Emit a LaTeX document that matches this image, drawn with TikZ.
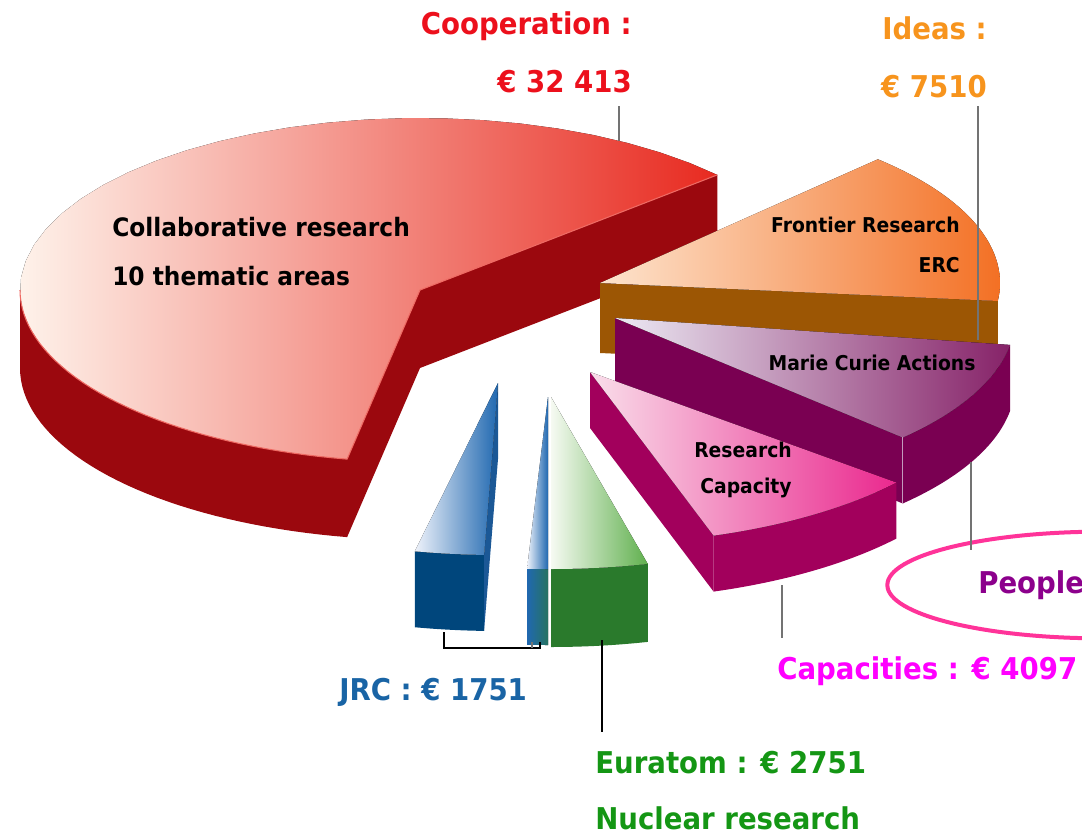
\documentclass[tikz,border=0pt]{standalone}
\usepackage{fontspec}
\setmainfont{DejaVu Sans}[FakeStretch=0.92]
\usetikzlibrary{calc}

\definecolor{coopLight}{RGB}{254,242,234}
\definecolor{coopMid}{RGB}{244,158,122}
\definecolor{coopDark}{RGB}{232,42,32}
\definecolor{coopWall}{RGB}{155,8,14}
\definecolor{coopText}{RGB}{236,16,28}
\definecolor{ideasLight}{RGB}{253,228,206}
\definecolor{ideasDark}{RGB}{243,112,36}
\definecolor{ideasWall}{RGB}{156,86,4}
\definecolor{ideasText}{RGB}{247,148,29}
\definecolor{mcLight}{RGB}{236,234,244}
\definecolor{mcDark}{RGB}{134,34,104}
\definecolor{mcWall}{RGB}{122,0,82}
\definecolor{peopleText}{RGB}{140,0,140}
\definecolor{peopleRing}{RGB}{255,51,153}
\definecolor{capLight}{RGB}{249,222,234}
\definecolor{capDark}{RGB}{234,40,142}
\definecolor{capWall}{RGB}{162,0,92}
\definecolor{capText}{RGB}{255,0,255}
\definecolor{jrcLight}{RGB}{238,242,250}
\definecolor{jrcDark}{RGB}{32,104,176}
\definecolor{jrcWall}{RGB}{0,70,124}
\definecolor{jrcText}{RGB}{25,100,165}
\definecolor{euraLight}{RGB}{246,250,242}
\definecolor{euraDark}{RGB}{96,176,78}
\definecolor{euraWall}{RGB}{42,122,44}
\definecolor{euraText}{RGB}{20,150,20}

\tikzset{
  % elliptic rim arc: centre x, centre y, from, to
  rim/.style n args={4}{insert path={plot[domain=#3:#4,samples=40]({#1+\rx*cos(\x)},{#2-\ry*sin(\x)})}},
  rimto/.style n args={4}{insert path={-- plot[domain=#3:#4,samples=40]({#1+\rx*cos(\x)},{#2-\ry*sin(\x)})}},
  topface/.style 2 args={left color=#1,right color=#2},
  callout/.style={draw=black!55,line width=1pt},
  bigtxt/.style={font=\bfseries\fontsize{22.5}{27}\selectfont,inner sep=0pt},
  midtxt/.style={font=\bfseries\fontsize{19}{23}\selectfont,inner sep=0pt},
  smalltxt/.style={font=\bfseries\fontsize{15.3}{18}\selectfont,inner sep=0pt}
}

\begin{document}
\begin{tikzpicture}[x=0.75pt,y=-0.75pt]
    \useasboundingbox (0,0) rectangle (1082,833);
    \pgfmathsetmacro{\rx}{400}
    \pgfmathsetmacro{\ry}{172}
    % Cooperation
    \fill[coopWall] (420,290) -- ({420+\rx*cos(42)},{290-\ry*sin(42)}) --++(0,78)
        -- (420,368) -- ({420+\rx*cos(259.5)},{368-\ry*sin(259.5)})
        -- ({420+\rx*cos(259.5)},{290-\ry*sin(259.5)}) -- cycle;
    \fill[coopWall] [rim={420}{290}{180}{259.5}] [rimto={420}{368}{259.5}{180}] -- cycle;
    \fill[left color=coopLight,middle color=coopMid,right color=coopDark]
        (420,290) [rimto={420}{290}{42}{259.5}] -- cycle;
    \draw[coopDark!70!white,line width=.8pt] [rim={420}{290}{180}{259.5}] -- (420,290)
        -- ({420+\rx*cos(42)},{290-\ry*sin(42)});
    % Ideas
    \fill[ideasWall] (600,283) -- ({600+\rx*cos(-6)},{283-\ry*sin(-6)}) --++(0,70)
        -- (600,353) -- cycle;
    \fill[topface={ideasLight}{ideasDark}] (600,283) [rimto={600}{283}{-6}{46}] -- cycle;
    \coordinate (ideas-in) at (978,340);
    \coordinate (ideas-out) at (978,106);
    \draw[callout] (ideas-in) -- (ideas-out);
    % People
    \fill[mcWall] (615,318) -- ({615+\rx*cos(-44)},{318-\ry*sin(-44)}) --++(0,66)
        -- (615,384) -- cycle;
    \fill[mcWall] [rim={615}{318}{-44}{-9}] [rimto={615}{384}{-9}{-44}] -- cycle;
    \fill[topface={mcLight}{mcDark}] (615,318) [rimto={615}{318}{-44}{-9}] -- cycle;
    \draw[mcLight!60!mcDark,line width=.5pt] ({615+\rx*cos(-44)},{318-\ry*sin(-44)}) --++(0,66);
    % Capacities
    \fill[capWall] (590,372) -- ({590+\rx*cos(-72)},{372-\ry*sin(-72)}) --++(0,56)
        -- (590,428) -- cycle;
    \fill[capWall] [rim={590}{372}{-72}{-40}] [rimto={590}{428}{-40}{-72}] -- cycle;
    \fill[topface={capLight}{capDark}] (590,372) [rimto={590}{372}{-72}{-40}] -- cycle;
    % JRC
    \fill[jrcWall] [rim={498}{383}{-102}{-92}] [rimto={498}{459}{-92}{-102}] -- cycle;
    \fill[jrcDark!85!black] (498,383) -- ({498+\rx*cos(-92)},{383-\ry*sin(-92)}) --++(0,76)
        -- (498,459) -- cycle;
    \fill[topface={jrcLight}{jrcDark}] (498,383) [rimto={498}{383}{-102}{-92}] -- cycle;
    \fill[left color=jrcDark,right color=jrcDark!40!euraWall]
        [rim={548}{397}{-93}{-90}] [rimto={548}{473}{-90}{-93}] -- cycle;
    \fill[topface={jrcLight}{jrcDark}] (548,397) [rimto={548}{397}{-93}{-90}] -- cycle;
    % Euratom
    \fill[euraWall] [rim={551}{397}{-90}{-76}] [rimto={551}{475}{-76}{-90}] -- cycle;
    \fill[topface={euraLight}{euraDark}] (551,397) [rimto={551}{397}{-90}{-76}] -- cycle;
    \draw[white,line width=1pt] (549.5,568) -- (549.5,645);

    % labels
    \node[bigtxt,text=coopText,anchor=base east] (coop) at (632,34) {Cooperation :};
    \node[bigtxt,text=coopText,anchor=base east] (coop-val) at (632,92) {€ 32 413};
    \node[bigtxt,text=ideasText,anchor=base east] (ideas) at (987,39) {Ideas :};
    \node[bigtxt,text=ideasText,anchor=base east] (ideas-val) at (987,97) {€ 7510};
    \node[midtxt,anchor=base west] (collab) at (112,236) {Collaborative research};
    \node[midtxt,anchor=base west] (areas) at (112,285) {10 thematic areas};
    \node[smalltxt,anchor=base east] (frontier) at (960,232) {Frontier Research};
    \node[smalltxt,anchor=base east] (erc) at (960,272) {ERC};
    \node[smalltxt,anchor=base] (marie) at (872,370) {Marie Curie Actions};
    \node[smalltxt,anchor=base] (research) at (743,457) {Research};
    \node[smalltxt,anchor=base] (capacity) at (746,493) {Capacity};
    \node[bigtxt,text=peopleText,anchor=base west] (people) at (978,593) {People};
    \draw[peopleRing,line width=3pt] (1102,585) ellipse [x radius=161pt,y radius=40pt];
    \node[bigtxt,text=capText,anchor=base west] (cap) at (777,679) {Capacities : € 4097};
    \node[bigtxt,text=jrcText,anchor=base west] (jrc) at (339,700) {JRC : € 1751};
    \node[bigtxt,text=euraText,anchor=base west] (eura) at (595,773) {Euratom : € 2751};
    \node[bigtxt,text=euraText,anchor=base west] (nuclear) at (595,829) {Nuclear research};

    % callouts
    \coordinate (coop-in) at (619,141);
    \coordinate (coop-out) at (619,106);
    \draw[callout] (coop-in) -- (coop-out);
    \coordinate (people-in) at (971,462);
    \coordinate (people-out) at (971,550);
    \draw[callout] (people-in) -- (people-out);
    \coordinate (cap-in) at (782,585);
    \coordinate (cap-out) at (782,638);
    \draw[callout] (cap-in) -- (cap-out);
    \coordinate (eura-in) at (602,640);
    \coordinate (eura-out) at (602,732);
    \draw[callout,draw=black] (eura-in) -- (eura-out);
    \coordinate (jrc-a) at (444,632);
    \coordinate (jrc-b) at (532,642);
    \coordinate (jrc-c) at (540,642);
    \draw[callout,draw=black] (jrc-a) -- (jrc-a |- 0,648) -- (jrc-c |- 0,648) -- (jrc-c);
    \draw[callout] (jrc-b) -- (jrc-b |- 0,648);
\end{tikzpicture}
\end{document}
